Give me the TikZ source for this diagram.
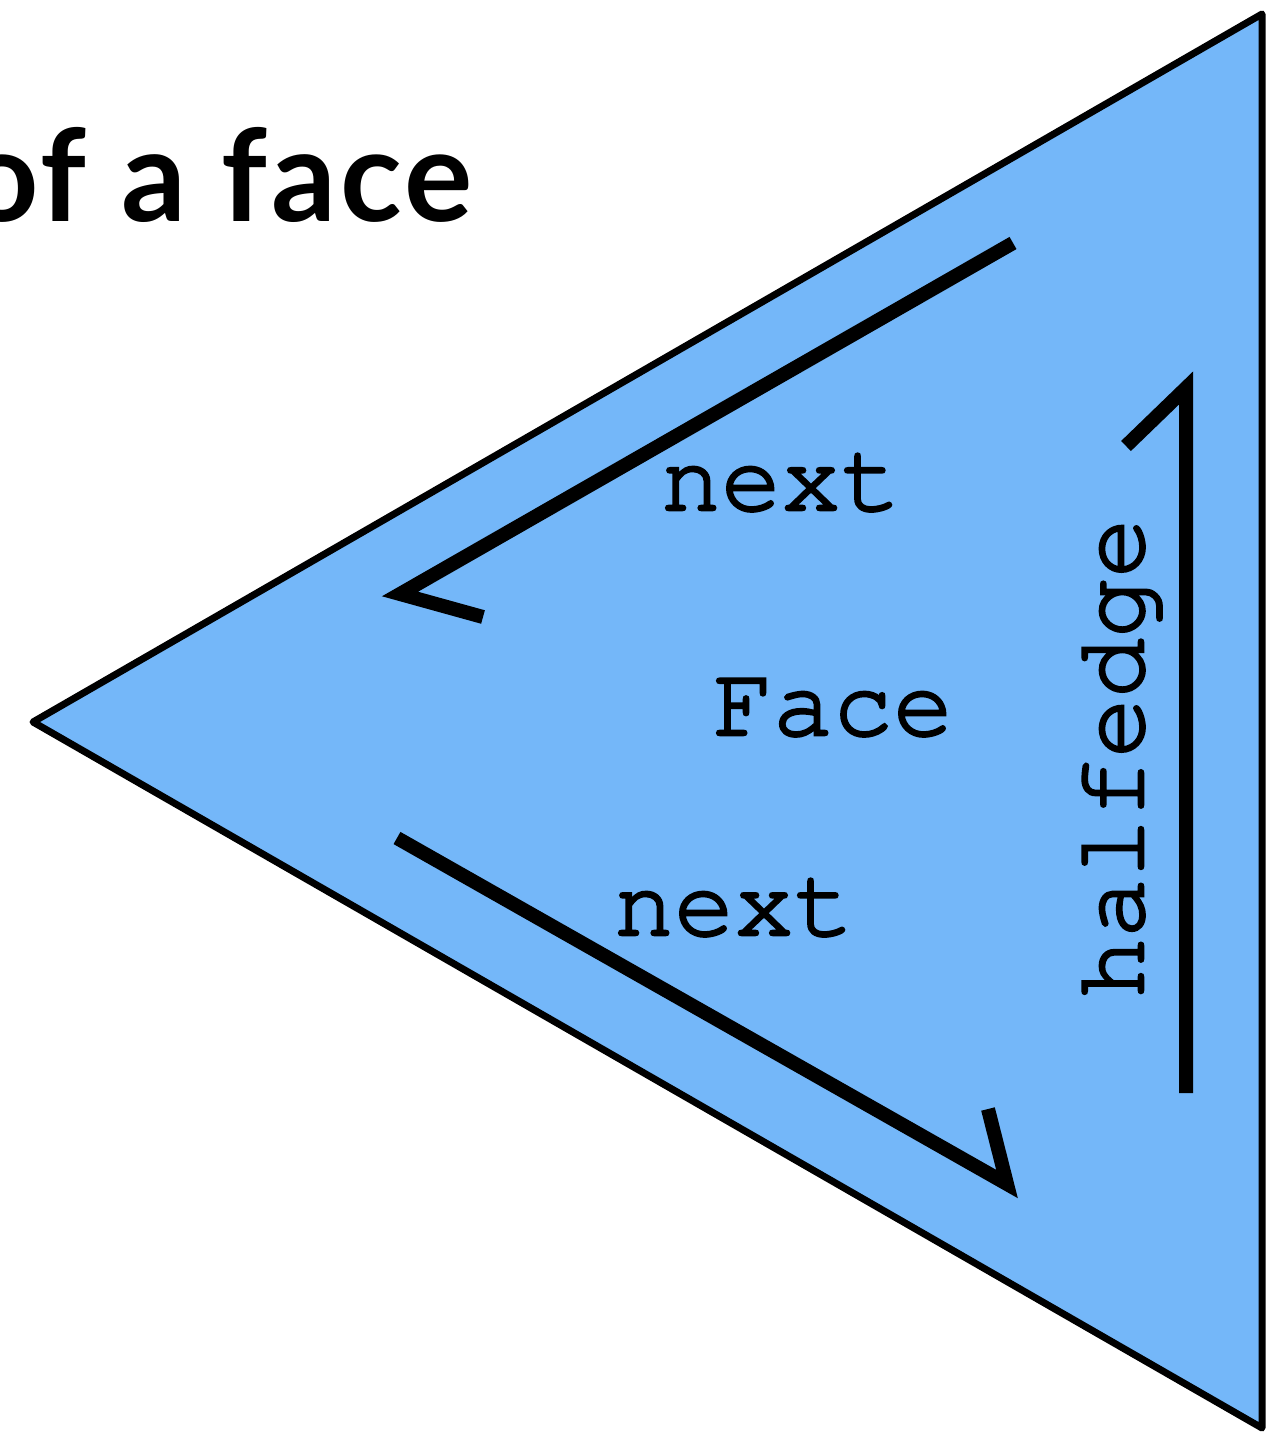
\documentclass[tikz,border=0pt]{standalone}
\usepackage{fontspec}
\newfontfamily\monolbl{TeX Gyre Cursor}[FakeBold=2.6]
\newfontfamily\titlefont{Lato}[LetterSpace=3]
\definecolor{faceblue}{RGB}{116,183,249}
\tikzset{
  facetri/.style={fill=faceblue,draw=black,line width=3.5pt,line join=round},
  hearrow/.style={draw=black,line width=7pt,line join=miter,miter limit=10},
  lbl/.style={font=\monolbl\fontsize{50}{52}\selectfont,inner sep=0pt},
}
\begin{document}
\begin{tikzpicture}[x=0.5pt,y=-0.5pt]
\useasboundingbox (0,0) rectangle (1271,1433);
\node[anchor=base east,inner sep=0pt,font=\titlefont\bfseries\fontsize{64}{70}\selectfont] (title) at (473,222) {of a face};
\coordinate (A) at (33,722);
\coordinate (B) at (1262,14);
\coordinate (C) at (1262,1428);
\draw[facetri] (A) -- (B) -- (C) -- cycle;
\coordinate (u1) at (1013,243);
\coordinate (u2) at (400,594);
\coordinate (u3) at (483,617);
\draw[hearrow] (u1) -- (u2) -- (u3);
\coordinate (l1) at (397,838);
\coordinate (l2) at (1007,1184);
\coordinate (l3) at (988,1109);
\draw[hearrow] (l1) -- (l2) -- (l3);
\coordinate (r1) at (1186,1093);
\coordinate (r2) at (1186,388);
\coordinate (r3) at (1126,446);
\draw[hearrow] (r1) -- (r2) -- (r3);
\node[lbl,anchor=base] (n1) at (781,510) {next};
\node[lbl,anchor=base] (face) at (833,735) {Face};
\node[lbl,anchor=base] (n2) at (734,935) {next};
\node[lbl,anchor=base,rotate=90] (he) at (1143,758) {halfedge};
\end{tikzpicture}
\end{document}
